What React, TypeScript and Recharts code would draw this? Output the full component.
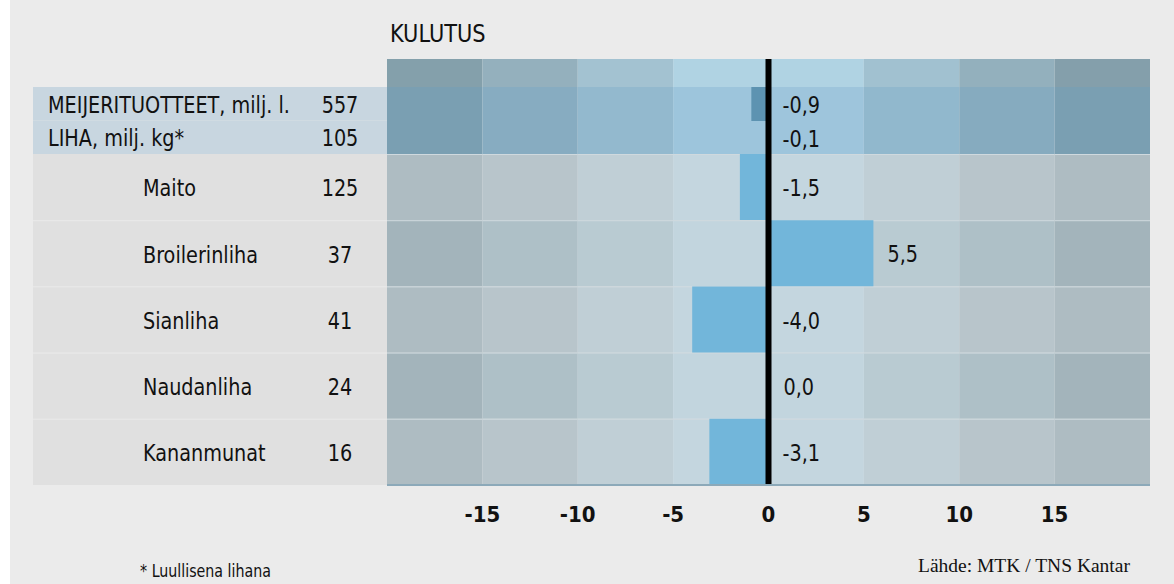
import React from 'react';
import { BarChart, Bar, XAxis, YAxis, ReferenceArea, ReferenceLine, LabelList } from 'recharts';

// ---------- data ----------
const title = 'KULUTUS';
const groupCategories = ['MEIJERITUOTTEET, milj. l.', 'LIHA, milj. kg*'];
const groupVolumes = ['557', '105'];
const groupChanges = [-0.9, -0.1];
const itemCategories = ['Maito', 'Broilerinliha', 'Sianliha', 'Naudanliha', 'Kananmunat'];
const itemVolumes = ['125', '37', '41', '24', '16'];
const itemChanges = [-1.5, 5.5, -4.0, 0.0, -3.1];
const xTicks = [-15, -10, -5, 0, 5, 10, 15];
const columnBounds = [-20, -15, -10, -5, 0, 5, 10, 15, 20];
const footnote = '* Luullisena lihana';
const source = 'Lähde: MTK / TNS Kantar';

// ---------- styles ----------
const FONT = "'DejaVu Sans Condensed', 'DejaVu Sans', sans-serif";
const SX = 0.93;
const W = 1174;
const PANEL_LEFT = 33;
const PLOT_LEFT = 387;
const RIGHT_MARGIN = 24;
const headerColors = ['#84a0ab', '#94b0bd', '#a3c2d1', '#b0d3e3', '#b0d3e3', '#a1c1d0', '#93b0bd', '#849fab'];
const groupColors = ['#7a9fb2', '#87acc1', '#93b9ce', '#9dc5dc', '#9ec5dc', '#91b8cd', '#86abbf', '#7a9fb2'];
const itemColorsLight = ['#aebcc2', '#b8c5cb', '#c0cfd6', '#c4d6df', '#c4d6df', '#c0cfd6', '#b8c5cb', '#aebcc2'];
const itemColorsDark = ['#a3b4bb', '#aec0c7', '#b9cbd2', '#c2d5de', '#c2d5de', '#b9cbd2', '#aec0c7', '#a3b4bb'];

const fmt = (v: number) => v.toFixed(1).replace('.', ',');

const groupData = groupCategories.map((name, i) => ({ name, volume: groupVolumes[i], change: groupChanges[i] }));
const itemData = itemCategories.map((name, i) => ({ name, volume: itemVolumes[i], change: itemChanges[i] }));

const NText = ({ x, y, anchor, size, children }: any) => (
  <text transform={`translate(${x},${y}) scale(${SX},1)`} dy="0.4em" textAnchor={anchor || 'start'}
    fontFamily={FONT} fontSize={size || 23} fill="#111">
    {children}
  </text>
);

const ValueLabel = (props: any) => {
  const { x, y, width, height, value } = props;
  const end = Math.max(Number(x), Number(x) + Number(width));
  return <NText x={end + 14} y={Number(y) + Number(height) / 2}>{fmt(Number(value))}</NText>;
};

const makeTick = (rows: { name: string; volume: string }[], bandH: number, labelX: number, fill: string, sep: boolean) =>
  (props: any) => {
    const { y, payload, index } = props;
    const row = rows.find((r) => r.name === payload.value);
    const top = y - bandH / 2;
    return (
      <g>
        <rect x={PANEL_LEFT} y={top} width={PLOT_LEFT - PANEL_LEFT} height={bandH} fill={fill} />
        {sep && index > 0 ? <rect x={PANEL_LEFT} y={top} width={PLOT_LEFT - PANEL_LEFT} height={1} fill="#e9e9e9" /> : null}
        <NText x={labelX} y={y}>{payload.value}</NText>
        <NText x={340} y={y} anchor="middle">{row ? row.volume : ''}</NText>
      </g>
    );
  };

const CellShape = (props: any) => {
  const { x, y, width, height, fill, sepTop } = props;
  return (
    <g>
      <rect x={x} y={y} width={width} height={height} fill={fill} />
      {sepTop ? <rect x={x} y={y} width={width} height={1} fill="#cfd9de" /> : null}
    </g>
  );
};

const columns = columnBounds.slice(0, -1).map((b, i) => ({ x1: b, x2: columnBounds[i + 1], i }));

export default function App() {
  const groupH = 67;
  const itemPlotH = 331;
  return (
    <div style={{ position: 'absolute', left: 0, top: 0, width: W, height: 584, background: '#ebebeb', overflow: 'hidden' }}>
      <div style={{ position: 'absolute', left: 0, top: 0, width: 10, height: 584, background: '#ffffff' }} />
      <div style={{ position: 'absolute', left: 390, top: 19, fontFamily: FONT, fontSize: 25, color: '#111', transform: `scaleX(${SX})`, transformOrigin: 'left top' }}>{title}</div>

      {/* header strip */}
      <div style={{ position: 'absolute', left: 0, top: 59 }}>
        <BarChart width={W} height={28} layout="vertical" data={[{ name: 'h', change: 0 }]} barCategoryGap={0} margin={{ top: 0, right: RIGHT_MARGIN, bottom: 0, left: PLOT_LEFT }}>
          <XAxis type="number" domain={[-20, 20]} hide />
          <YAxis type="category" dataKey="name" hide />
          {columns.map((c) => (
            <ReferenceArea key={c.i} x1={c.x1} x2={c.x2} fill={headerColors[c.i]} fillOpacity={1} stroke="none" ifOverflow="visible" />
          ))}
          <Bar dataKey="change" fill="none" isAnimationActive={false} />
          <ReferenceLine x={0} stroke="#000" strokeWidth={6} />
        </BarChart>
      </div>

      {/* group rows */}
      <div style={{ position: 'absolute', left: 0, top: 87 }}>
        <BarChart width={W} height={groupH} layout="vertical" data={groupData} barCategoryGap={0} margin={{ top: 0, right: RIGHT_MARGIN, bottom: 0, left: 0 }}>
          <XAxis type="number" domain={[-20, 20]} hide />
          <YAxis type="category" dataKey="name" width={PLOT_LEFT} axisLine={false} tickLine={false} tickSize={0} tickMargin={0}
            tick={makeTick(groupData, groupH / groupData.length, 48, '#c8d6e0', false)} interval={0} />
          {columns.map((c) => (
            <ReferenceArea key={c.i} x1={c.x1} x2={c.x2} fill={groupColors[c.i]} fillOpacity={1} stroke="none" ifOverflow="visible" />
          ))}
          <Bar dataKey="change" fill="#5d93b1" isAnimationActive={false} minPointSize={1}>
            <LabelList dataKey="change" content={ValueLabel} />
          </Bar>
          <ReferenceLine x={0} stroke="#000" strokeWidth={6} />
        </BarChart>
      </div>

      {/* item rows */}
      <div style={{ position: 'absolute', left: 0, top: 154 }}>
        <BarChart width={W} height={430} layout="vertical" data={itemData} barCategoryGap={0} margin={{ top: 0, right: RIGHT_MARGIN, bottom: 59, left: 0 }}>
          <XAxis type="number" domain={[-20, 20]} ticks={xTicks} interval={0} height={40} tickLine={false} tickSize={0} tickMargin={21}
            axisLine={{ stroke: '#8ca9b9', strokeWidth: 2 }}
            tick={{ fontFamily: FONT, fontSize: 22, fontWeight: 700, fill: '#111' }} />
          <YAxis type="category" dataKey="name" width={PLOT_LEFT} axisLine={false} tickLine={false} tickSize={0} tickMargin={0}
            tick={makeTick(itemData, itemPlotH / itemData.length, 143, '#e0e0e0', true)} interval={0} />
          {itemData.map((row, r) =>
            columns.map((c) => (
              <ReferenceArea key={`${r}-${c.i}`} x1={c.x1} x2={c.x2} y1={row.name} y2={row.name}
                fill={(r % 2 === 0 ? itemColorsLight : itemColorsDark)[c.i]} fillOpacity={1} stroke="none" ifOverflow="visible"
                shape={(p: any) => <CellShape {...p} fill={(r % 2 === 0 ? itemColorsLight : itemColorsDark)[c.i]} sepTop={true} />} />
            ))
          )}
          <Bar dataKey="change" fill="#72b6da" isAnimationActive={false} minPointSize={1}>
            <LabelList dataKey="change" content={ValueLabel} />
          </Bar>
          <ReferenceLine x={0} stroke="#000" strokeWidth={6} />
        </BarChart>
      </div>

      <div style={{ position: 'absolute', left: 140, top: 561, fontFamily: FONT, fontSize: 17, color: '#111', transform: `scaleX(${SX})`, transformOrigin: 'left top' }}>{footnote}</div>
      <div style={{ position: 'absolute', left: 918, top: 555, fontFamily: "'Liberation Serif', 'DejaVu Serif', serif", fontSize: 19.5, color: '#111' }}>{source}</div>
    </div>
  );
}
